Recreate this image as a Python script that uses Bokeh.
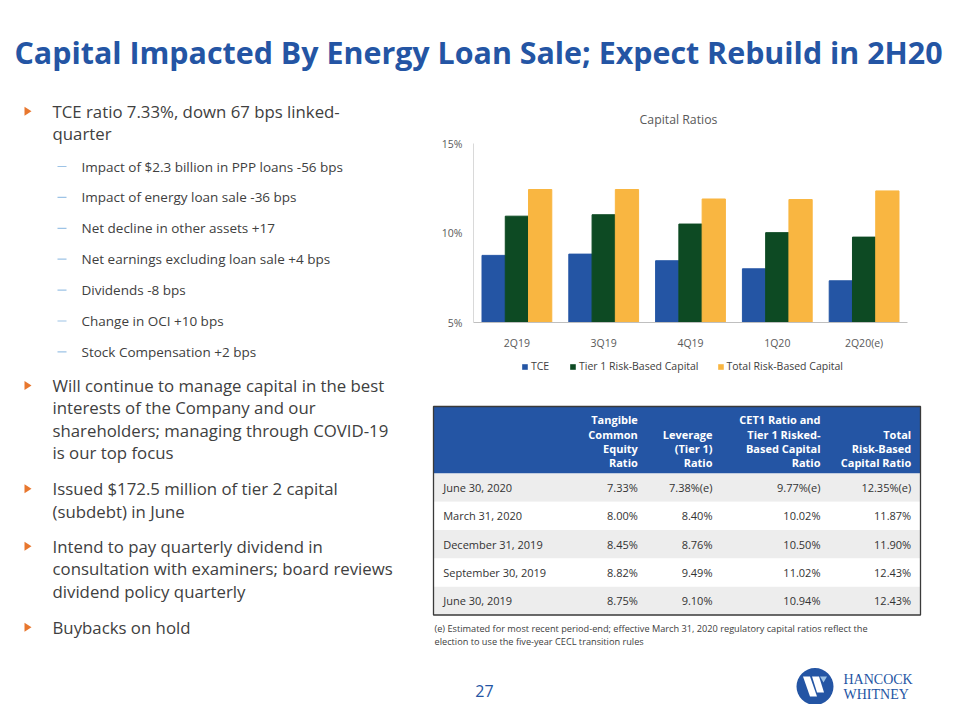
from bokeh.plotting import figure
from bokeh.layouts import column, row
from bokeh.models import (Range1d, FactorRange, ColumnDataSource, Legend, LegendItem,
                          PrintfTickFormatter, FixedTicker)
from bokeh.transform import dodge
from bokeh.embed import file_html
from bokeh.resources import INLINE
from bokeh.core.properties import value

# ---------------- data ----------------
quarters = ["2Q19", "3Q19", "4Q19", "1Q20", "2Q20(e)"]
tce = [8.75, 8.82, 8.45, 8.00, 7.33]
tier1_rbc = [10.94, 11.02, 10.50, 10.02, 9.77]
total_rbc = [12.43, 12.43, 11.90, 11.87, 12.35]
series_names = ["TCE", "Tier 1 Risk-Based Capital", "Total Risk-Based Capital"]
y_ticks = [5, 10, 15]

table_dates = ["June 30, 2020", "March 31, 2020", "December 31, 2019",
               "September 30, 2019", "June 30, 2019"]
table_tce = ["7.33%", "8.00%", "8.45%", "8.82%", "8.75%"]
table_leverage = ["7.38%(e)", "8.40%", "8.76%", "9.49%", "9.10%"]
table_cet1 = ["9.77%(e)", "10.02%", "10.50%", "11.02%", "10.94%"]
table_total = ["12.35%(e)", "11.87%", "11.90%", "12.43%", "12.43%"]
header_tce = ["Tangible", "Common", "Equity", "Ratio"]
header_lev = ["Leverage", "(Tier 1)", "Ratio"]
header_cet1 = ["CET1 Ratio and", "Tier 1 Risked-", "Based Capital", "Ratio"]
header_total = ["Total", "Risk-Based", "Capital Ratio"]

slide_title = "Capital Impacted By Energy Loan Sale; Expect Rebuild in 2H20"
chart_title = "Capital Ratios"
bullet1 = ["TCE ratio 7.33%, down 67 bps linked-", "quarter"]
sub_bullets = ["Impact of $2.3 billion in PPP loans -56 bps",
               "Impact of energy loan sale -36 bps",
               "Net decline in other assets +17",
               "Net earnings excluding loan sale +4 bps",
               "Dividends -8 bps",
               "Change in OCI +10 bps",
               "Stock Compensation +2 bps"]
bullet2 = ["Will continue to manage capital in the best",
           "interests of the Company and our",
           "shareholders; managing through COVID-19",
           "is our top focus"]
bullet3 = ["Issued $172.5 million of tier 2 capital", "(subdebt) in June"]
bullet4 = ["Intend to pay quarterly dividend in",
           "consultation with examiners; board reviews",
           "dividend policy quarterly"]
bullet5 = ["Buybacks on hold"]
footnote = ["(e) Estimated for most recent period-end; effective March 31, 2020 regulatory capital ratios reflect the",
            "election to use the  five-year CECL transition rules"]
page_number = "27"
logo_lines = ["HANCOCK", "WHITNEY"]

# ---------------- styles ----------------
FONT = "Open Sans"
BLUE = "#2455A4"
GREEN = "#0D4A23"
GOLD = "#F9B641"
TEXT = "#404040"
ORANGE = "#E8772E"
DASH = "#9DC3E6"
SERIES_COLORS = [BLUE, GREEN, GOLD]
SPLIT = 420   # boundary between left text column and right column


def pixel_fig(x0, x1, y0, y1):
    # figure whose data units are slide pixels (y grows downward)
    p = figure(width=x1 - x0, height=y1 - y0, x_range=Range1d(x0, x1),
               y_range=Range1d(y1, y0), output_backend="svg",
               toolbar_location=None, x_axis_type=None, y_axis_type=None,
               min_border=0, outline_line_color=None, frame_align=False)
    return p


def txt(p, xs, ys, texts, size, color=TEXT, align="left", style="normal",
        font=FONT, baseline="middle"):
    src = ColumnDataSource(dict(x=xs, y=ys, t=texts))
    p.text(x="x", y="y", text="t", source=src, text_font=value(font),
           text_font_size=f"{size}px", text_color=color, text_align=align,
           text_baseline=baseline, text_font_style=style)


# ---------------- slide title ----------------
pt = pixel_fig(0, 944, 0, 92)
txt(pt, [14], [51.5], [slide_title], 30.4, color=BLUE, style="bold")

# ---------------- left bullets ----------------
pl = pixel_fig(0, SPLIT, 92, 704)
MAIN = 16.8
SUB = 13.5
bx, tx = 27, 52
blocks = [(bullet1, 110.7), (bullet2, 385.0), (bullet3, 488.3),
          (bullet4, 545.7), (bullet5, 626.7)]
tri_x, tri_y = [], []
for lines, y0 in blocks:
    ys = [y0 + 22.4 * i for i in range(len(lines))]
    txt(pl, [tx] * len(lines), ys, lines, MAIN)
    tri_x.append([bx - 3, bx + 4, bx - 3])
    tri_y.append([y0 - 4.5, y0, y0 + 4.5])
pl.patches(tri_x, tri_y, fill_color=ORANGE, line_color=None)
sub_y = [166 + 30.9 * i for i in range(len(sub_bullets))]
txt(pl, [81] * len(sub_bullets), sub_y, sub_bullets, SUB)
pl.segment(x0=[57] * len(sub_y), x1=[66] * len(sub_y), y0=sub_y, y1=sub_y,
           line_color=DASH, line_width=1.2)

# ---------------- chart title strip ----------------
pct = pixel_fig(SPLIT, 944, 92, 130)
txt(pct, [678], [118.5], [chart_title], 12.3, color="#595959", align="center")

# ---------------- bar chart ----------------
src = ColumnDataSource(dict(q=quarters, tce=tce, t1=tier1_rbc, tot=total_rbc))
pc = figure(width=944 - SPLIT, height=222,
            x_range=FactorRange(factors=quarters, range_padding=0),
            y_range=Range1d(y_ticks[0], y_ticks[-1]), output_backend="svg",
            toolbar_location=None, min_border_left=473 - SPLIT, min_border_right=37,
            min_border_top=13, min_border_bottom=26, outline_line_color=None,
            frame_align=False)
w = 0.268
for off, col, c in zip([-w, 0, w], ["tce", "t1", "tot"], SERIES_COLORS):
    pc.vbar(x=dodge("q", off, range=pc.x_range), top=col, width=w, source=src,
            fill_color=c, line_color=c)
pc.xgrid.visible = False
pc.ygrid.visible = False
pc.yaxis.ticker = FixedTicker(ticks=y_ticks)
pc.yaxis.formatter = PrintfTickFormatter(format="%d%%")
for ax in (pc.xaxis[0], pc.yaxis[0]):
    ax.major_tick_line_color = None
    ax.minor_tick_line_color = None
    ax.major_label_text_font = FONT
    ax.major_label_text_font_size = "10.5px"
    ax.major_label_text_color = "#595959"
pc.yaxis.axis_line_color = "#D9D9D9"
pc.yaxis.major_label_standoff = 5
pc.xaxis.axis_line_color = "#BFBFBF"
pc.xaxis.major_label_standoff = 7

# ---------------- legend strip ----------------
plg = pixel_fig(SPLIT, 944, 352, 380)
items = []
for name, c in zip(series_names, SERIES_COLORS):
    # legend swatch renderers: a box placed outside the visible strip
    r = plg.quad(left=[-110], right=[-100], top=[-110], bottom=[-100],
                 fill_color=c, line_color=None)
    items.append(LegendItem(label=name, renderers=[r]))
legend = Legend(items=items, orientation="horizontal", location="center",
                glyph_width=7, glyph_height=7, label_standoff=3, spacing=18,
                padding=0, margin=0, label_height=14,
                label_text_font=FONT, label_text_font_size="10.5px",
                label_text_color="#404040", border_line_color=None,
                background_fill_alpha=0)
plg.add_layout(legend, "center")

# ---------------- table + footer ----------------
ptb = pixel_fig(SPLIT, 944, 380, 704)
L, R, T, HB = 433, 920, 406, 473
RH = 28.3
n = len(table_dates)
row_top = [HB + RH * i for i in range(n)]
row_bot = [HB + RH * (i + 1) for i in range(n)]
row_col = ["#EDEDED" if i % 2 == 0 else "#FFFFFF" for i in range(n)]
ptb.quad(left=[L], right=[R], top=[T], bottom=[HB], fill_color=BLUE, line_color=None)
ptb.quad(left=[L] * n, right=[R] * n, top=row_top, bottom=row_bot,
         fill_color=row_col, line_color=None)
ptb.quad(left=[L], right=[R], top=[T], bottom=[row_bot[-1]], fill_color=None,
         line_color="#3A3A3A", line_width=1.3)

col_x = [637.3, 712, 820, 910.7]
for cx, lines in zip(col_x, [header_tce, header_lev, header_cet1, header_total]):
    k = len(lines)
    ys = [462.2 - 14.3 * (k - 1 - i) for i in range(k)]
    txt(ptb, [cx] * k, ys, lines, 11, color="white", align="right", style="bold")

row_y = [(a + b) / 2 for a, b in zip(row_top, row_bot)]
txt(ptb, [442.7] * n, row_y, table_dates, 11, color="#333333")
for cx, vals in zip(col_x, [table_tce, table_leverage, table_cet1, table_total]):
    txt(ptb, [cx] * n, row_y, vals, 11, color="#333333", align="right")

txt(ptb, [434, 434], [627.5, 640.5], footnote, 9.2, color="#404040")
txt(ptb, [484], [690], [page_number], 16, color=BLUE, align="center")

# logo
lx, ly = 814.5, 686
ptb.circle(x=[lx], y=[ly], radius=18.5, fill_color=BLUE, line_color=None)
ptb.patches([[lx - 12, lx - 5, lx + 2, lx - 5], [lx - 3, lx + 4, lx + 9, lx + 2]],
            [[ly - 10, ly - 10, ly + 10, ly + 10], [ly - 10, ly - 10, ly + 6, ly + 6]],
            fill_color="white", line_color=None)
ptb.patches([[lx + 5, lx + 12, lx + 8.5]], [[ly - 10, ly - 10, ly - 4]],
            fill_color="#9DC3E6", line_color=None)
txt(ptb, [843, 843], [678.5, 693.5], logo_lines, 14, color=BLUE, font="Liberation Serif")

layout = column(pt, row(pl, column(pct, pc, plg, ptb, spacing=0), spacing=0), spacing=0)
open("out.html", "w").write(file_html(layout, INLINE))
